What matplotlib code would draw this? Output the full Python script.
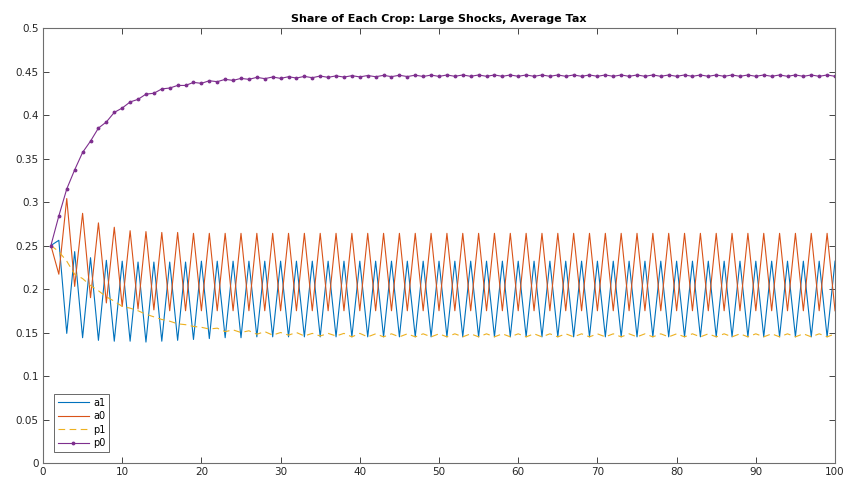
import numpy as np
import matplotlib
matplotlib.use("Agg")
import matplotlib.pyplot as plt
from matplotlib.ticker import FuncFormatter

OUT = "out.png"

TITLE = "Share of Each Crop: Large Shocks, Average Tax"
LABELS = ["a1", "a0", "p1", "p0"]

periods = np.arange(1, 101)

a1 = [0.250, 0.256, 0.149, 0.243, 0.144, 0.236, 0.141, 0.233, 0.140, 0.232,
      0.140, 0.231, 0.139, 0.231, 0.140, 0.231, 0.141, 0.231, 0.142, 0.232,
      0.143, 0.232, 0.144, 0.232, 0.144, 0.232, 0.145, 0.232, 0.145, 0.232,
      0.145, 0.232, 0.145, 0.232, 0.145, 0.232, 0.145, 0.232, 0.145, 0.232,
      0.145, 0.232, 0.145, 0.232, 0.145, 0.232, 0.145, 0.232, 0.145, 0.232,
      0.145, 0.232, 0.145, 0.232, 0.145, 0.232, 0.145, 0.232, 0.145, 0.232,
      0.145, 0.232, 0.145, 0.232, 0.145, 0.232, 0.145, 0.232, 0.145, 0.232,
      0.145, 0.232, 0.145, 0.232, 0.145, 0.232, 0.145, 0.232, 0.145, 0.232,
      0.145, 0.232, 0.145, 0.232, 0.145, 0.232, 0.145, 0.232, 0.145, 0.232,
      0.145, 0.232, 0.145, 0.232, 0.145, 0.232, 0.145, 0.232, 0.145, 0.232]

a0 = [0.250, 0.217, 0.304, 0.203, 0.287, 0.190, 0.276, 0.184, 0.271, 0.180,
      0.267, 0.177, 0.266, 0.176, 0.265, 0.175, 0.265, 0.175, 0.264, 0.175,
      0.264, 0.175, 0.264, 0.175, 0.264, 0.175, 0.264, 0.175, 0.264, 0.175,
      0.264, 0.175, 0.264, 0.175, 0.264, 0.175, 0.264, 0.175, 0.264, 0.175,
      0.264, 0.175, 0.264, 0.175, 0.264, 0.175, 0.264, 0.175, 0.264, 0.175,
      0.264, 0.175, 0.264, 0.175, 0.264, 0.175, 0.264, 0.175, 0.264, 0.175,
      0.264, 0.175, 0.264, 0.175, 0.264, 0.175, 0.264, 0.175, 0.264, 0.175,
      0.264, 0.175, 0.264, 0.175, 0.264, 0.175, 0.264, 0.175, 0.264, 0.175,
      0.264, 0.175, 0.264, 0.175, 0.264, 0.175, 0.264, 0.175, 0.264, 0.175,
      0.264, 0.175, 0.264, 0.175, 0.264, 0.175, 0.264, 0.175, 0.264, 0.175]

p1 = [0.250, 0.243, 0.232, 0.217, 0.212, 0.204, 0.198, 0.191, 0.186, 0.180,
      0.178, 0.175, 0.171, 0.168, 0.165, 0.163, 0.160, 0.159, 0.157, 0.156,
      0.154, 0.155, 0.151, 0.153, 0.150, 0.152, 0.148, 0.151, 0.147, 0.150,
      0.147, 0.150, 0.146, 0.149, 0.146, 0.149, 0.146, 0.149, 0.145, 0.149,
      0.145, 0.1485, 0.145, 0.1485, 0.145, 0.1485, 0.145, 0.1485, 0.145, 0.1485,
      0.145, 0.1485, 0.145, 0.1485, 0.145, 0.1485, 0.145, 0.1485, 0.145, 0.1485,
      0.145, 0.1485, 0.145, 0.1485, 0.145, 0.1485, 0.145, 0.1485, 0.145, 0.1485,
      0.145, 0.1485, 0.145, 0.1485, 0.145, 0.1485, 0.145, 0.1485, 0.145, 0.1485,
      0.145, 0.1485, 0.145, 0.1485, 0.145, 0.1485, 0.145, 0.1485, 0.145, 0.1485,
      0.145, 0.1485, 0.145, 0.1485, 0.145, 0.1485, 0.145, 0.1485, 0.145, 0.1485]

p0 = [0.250, 0.284, 0.315, 0.337, 0.357, 0.370, 0.385, 0.392, 0.403, 0.408,
      0.415, 0.418, 0.424, 0.425, 0.430, 0.431, 0.434, 0.434, 0.4375, 0.4364,
      0.4394, 0.4383, 0.4410, 0.4398, 0.4421, 0.4410, 0.4433, 0.4418, 0.4437, 0.4421,
      0.4440, 0.4425, 0.4444, 0.4429, 0.4448, 0.4433, 0.4450, 0.4436, 0.4452, 0.4438,
      0.4454, 0.4440, 0.4456, 0.4441, 0.4457, 0.4442, 0.4458, 0.4443, 0.4459, 0.4444,
      0.4460, 0.4445, 0.4460, 0.4445, 0.4460, 0.4445, 0.4460, 0.4445, 0.4460, 0.4445,
      0.4460, 0.4445, 0.4460, 0.4445, 0.4460, 0.4445, 0.4460, 0.4445, 0.4460, 0.4445,
      0.4460, 0.4445, 0.4460, 0.4445, 0.4460, 0.4445, 0.4460, 0.4445, 0.4460, 0.4445,
      0.4460, 0.4445, 0.4460, 0.4445, 0.4460, 0.4445, 0.4460, 0.4445, 0.4460, 0.4445,
      0.4460, 0.4445, 0.4460, 0.4445, 0.4460, 0.4445, 0.4460, 0.4445, 0.4460, 0.4445]

xticks = np.arange(0, 101, 10)
yticks = np.arange(0, 0.501, 0.05)

# matlab default colour order
C_BLUE   = "#0072BD"
C_ORANGE = "#D95319"
C_YELLOW = "#EDB120"
C_PURPLE = "#7E2F8E"
AXC      = "#262626"

fig = plt.figure(figsize=(8.48, 4.83), dpi=100)
ax = fig.add_axes([0.0507, 0.0414, 0.934, 0.9006])

ax.plot(periods, a1, color=C_BLUE, lw=0.8, label=LABELS[0])
ax.plot(periods, a0, color=C_ORANGE, lw=0.8, label=LABELS[1])
ax.plot(periods, p1, color=C_YELLOW, lw=0.8, ls=(0, (6, 4)), label=LABELS[2])
ax.plot(periods, p0, color=C_PURPLE, lw=0.8, marker=".", ms=3.5, label=LABELS[3])

ax.set_xlim(0, 100)
ax.set_ylim(0, 0.5)
ax.set_xticks(xticks)
ax.set_yticks(yticks)
ax.yaxis.set_major_formatter(FuncFormatter(lambda v, _: f"{v:g}"))
ax.tick_params(direction="in", top=True, right=True, length=4, width=0.6,
               colors=AXC, labelsize=7.5, labelcolor=AXC, pad=3)
for s in ax.spines.values():
    s.set_color("#6e6e6e")
    s.set_linewidth(0.8)

ax.set_title(TITLE, fontsize=8, fontweight="bold", pad=4)

leg = ax.legend(loc="lower left", bbox_to_anchor=(0.0139, 0.0253), borderaxespad=0,
                fontsize=7, handlelength=3.2, handletextpad=0.4, labelspacing=0.35,
                borderpad=0.4, fancybox=False, frameon=True)
leg.get_frame().set_edgecolor(AXC)
leg.get_frame().set_linewidth(0.6)

fig.savefig(OUT, dpi=100)
